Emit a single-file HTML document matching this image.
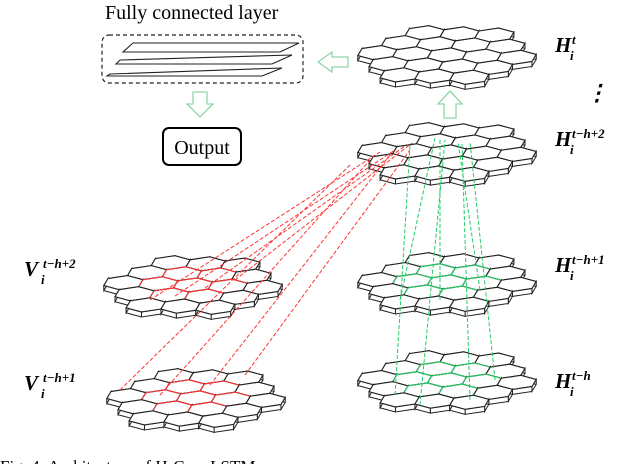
<!DOCTYPE html>
<html><head><meta charset="utf-8"><style>
body{margin:0;background:#fff;width:640px;height:464px;overflow:hidden}
svg{display:block}
.t{font-family:"Liberation Serif",serif}
.m{font-family:"Liberation Serif",serif;font-weight:bold;font-style:italic}
</style></head><body>
<svg id="s" width="640" height="464" viewBox="0 0 640 464" xmlns="http://www.w3.org/2000/svg">
<text x="105" y="19" class="t" font-size="20">Fully connected layer</text>
<rect x="102" y="35" width="201" height="48" rx="7" fill="none" stroke="#222" stroke-width="1.2" stroke-dasharray="4,3"/>
<g fill="#fff" stroke="#222" stroke-width="1.1">
<polygon points="133,43 299,43 280,52 123,52"/>
<polygon points="120,60 292,55 272,64 116,64"/>
<polygon points="110,74 282,68 262,76 107,76"/>
</g>
<rect x="163" y="128" width="78" height="37" rx="6" fill="#fff" stroke="#000" stroke-width="2"/>
<text x="202" y="154" class="t" font-size="20" text-anchor="middle">Output</text>
<g fill="#fff" stroke="#8fd6a8" stroke-width="1.3">
<polygon points="318,62 332,52 332,57 348,57 348,67 332,67 332,72"/>
<polygon points="193,92 207,92 207,104 213,104 200,117 187,104 193,104"/>
<polygon points="444,118 456,118 456,104 462,104 450,91 438,104 444,104"/>
</g>
<g id="layers"></g>
<g class="m" font-size="21">
<text x="555" y="52">H</text><text x="572" y="44" font-size="13">t</text><text x="570" y="60" font-size="13">i</text>
<text x="586" y="100" font-size="22">⋮</text>
<text x="555" y="146">H</text><text x="572" y="138" font-size="13">t−h+2</text><text x="570" y="154" font-size="13">i</text>
<text x="555" y="272">H</text><text x="572" y="264" font-size="13">t−h+1</text><text x="570" y="280" font-size="13">i</text>
<text x="555" y="388">H</text><text x="572" y="380" font-size="13">t−h</text><text x="570" y="396" font-size="13">i</text>
<text x="24" y="276">V</text><text x="43" y="268" font-size="13">t−h+2</text><text x="41" y="284" font-size="13">i</text>
<text x="24" y="390">V</text><text x="43" y="382" font-size="13">t−h+1</text><text x="41" y="398" font-size="13">i</text>
</g>
<text x="0" y="472" class="t" font-size="17">Fig. 4: Architecture of H-ConvLSTM.</text>
</svg>
<script>
var NS="http://www.w3.org/2000/svg",L=document.getElementById("layers");
function el(n,a,p){var e=document.createElementNS(NS,n);for(var k in a)e.setAttribute(k,a[k]);(p||L).appendChild(e);return e;}
function P(cx,cy,px,py){return [cx+px+0.33*py, cy-0.15*px+0.33*py];}
function layer(cx,cy,hl){
 var r=19.5,hs=[];
 for(var q=-2;q<=2;q++)for(var s=-2;s<=2;s++){if(Math.abs(q+s)>2)continue;
  var x=1.5*r*q,y=Math.sqrt(3)*r*(s+q/2);hs.push([x,y,Math.max(Math.abs(q),Math.abs(s),Math.abs(q+s))]);}
 hs.sort(function(a,b){return P(0,0,a[0],a[1])[1]-P(0,0,b[0],b[1])[1];});
 var g=el("g",{});
 hs.forEach(function(h){
  var pts=[];for(var i=0;i<6;i++){var a=Math.PI/3*i;pts.push(P(cx,cy,h[0]+r*Math.cos(a),h[1]+r*Math.sin(a)));}
  for(var i=0;i<6;i++){var a=pts[i],b=pts[(i+1)%6];
   el("polygon",{points:a[0]+","+a[1]+" "+b[0]+","+b[1]+" "+b[0]+","+(b[1]+5)+" "+a[0]+","+(a[1]+5),fill:"#fff",stroke:"#222","stroke-width":1},g);}
  var top=pts.map(function(p){return p[0]+","+p[1]}).join(" ");
  el("polygon",{points:top,fill:"#fff",stroke:"#222","stroke-width":1.1},g);
  if(hl&&h[2]<=1)el("polygon",{points:top,fill:"none",stroke:hl,"stroke-width":1.1},g);
 });
}
layer(447,55,null);
layer(447,152,null);
layer(193,285,"#f33");
layer(196,398,"#f33");
var rd=[[150,300,380,152],[175,296,395,150],[205,288,405,146],[235,280,412,143],[120,390,350,165],[160,395,370,160],[210,385,390,155],[245,375,410,150]];
rd.forEach(function(l){el("line",{x1:l[0],y1:l[1],x2:l[2],y2:l[3],stroke:"#f33","stroke-width":1,"stroke-dasharray":"4,2"});});
layer(447,282,"#2c6");
layer(447,380,"#2c6");
var gd=[[400,300,435,138],[420,405,445,140],[470,400,462,142],[495,380,470,142],[480,290,458,142],[395,395,410,145],[440,300,440,140]];
gd.forEach(function(l){el("line",{x1:l[0],y1:l[1],x2:l[2],y2:l[3],stroke:"#2c6","stroke-width":1,"stroke-dasharray":"4,2"});});
</script>
</body></html>
